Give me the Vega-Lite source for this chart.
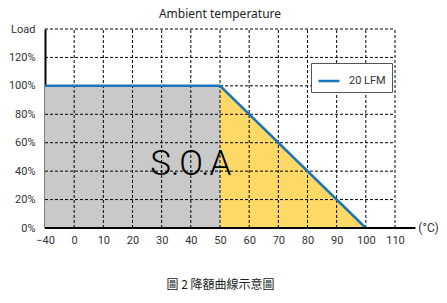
{
  "$schema": "https://vega.github.io/schema/vega-lite/v6.json",
  "width": 350,
  "height": 199,
  "autosize": "none",
  "padding": {"left": 45, "top": 29, "right": 52, "bottom": 75},
  "background": "white",
  "title": {"text": "Ambient temperature", "font": "Noto Sans", "fontSize": 12, "fontWeight": "normal", "color": "#222", "offset": 2, "frame": "group"},
  "config": {"view": {"stroke": null}, "font": "Roboto"},
  "encoding": {
    "x": {"field": "t", "type": "quantitative",
      "scale": {"domain": [-40, 0, 110], "range": [0, 29.1667, 350], "nice": false, "zero": false},
      "axis": {"values": [-40, 0, 10, 20, 30, 40, 50, 60, 70, 80, 90, 100, 110], "grid": false, "domain": false, "ticks": false, "labelPadding": 6, "labelFont": "Roboto", "labelFontSize": 11, "labelColor": "#333", "labelFlush": false, "labelOverlap": false,
        "title": "圖 2 降額曲線示意圖", "titleFont": "Noto Sans CJK TC", "titleFontSize": 12, "titleFontWeight": "normal", "titleColor": "#222", "titlePadding": 34}},
    "y": {"field": "load", "type": "quantitative",
      "scale": {"domain": [0, 140], "nice": false, "zero": true},
      "axis": {"values": [0, 20, 40, 60, 80, 100, 120, 140], "grid": false, "domain": true, "domainColor": "black", "domainWidth": 2, "ticks": false, "labelPadding": 10, "labelFont": "Roboto", "labelFontSize": 11, "labelColor": "#333",
        "labelExpr": "datum.value == 140 ? 'Load' : datum.value + '%'", "title": null}}
  },
  "layer": [
    {"data": {"values": [{"t": -40, "load": 100}, {"t": 50, "load": 100}]},
     "mark": {"type": "area", "color": "#c9c9c9"}},
    {"data": {"values": [{"t": 50, "load": 100}, {"t": 100, "load": 0}]},
     "mark": {"type": "area", "color": "#fed966"}},
    {"data": {"values": [{"t": 0, "load": 0, "top": 140}, {"t": 10, "load": 0, "top": 140}, {"t": 20, "load": 0, "top": 140}, {"t": 30, "load": 0, "top": 140}, {"t": 40, "load": 0, "top": 140}, {"t": 50, "load": 0, "top": 140}, {"t": 60, "load": 0, "top": 140}, {"t": 70, "load": 0, "top": 140}, {"t": 80, "load": 0, "top": 140}, {"t": 90, "load": 0, "top": 140}, {"t": 100, "load": 0, "top": 140}, {"t": 110, "load": 0, "top": 140}]},
     "mark": {"type": "rule", "color": "black", "strokeWidth": 1, "strokeDash": [3, 2]},
     "encoding": {"y2": {"field": "top"}}},
    {"data": {"values": [{"t": -40, "t2": 110, "load": 20}, {"t": -40, "t2": 110, "load": 40}, {"t": -40, "t2": 110, "load": 60}, {"t": -40, "t2": 110, "load": 80}, {"t": -40, "t2": 110, "load": 100}, {"t": -40, "t2": 110, "load": 120}, {"t": -40, "t2": 110, "load": 140}]},
     "mark": {"type": "rule", "color": "black", "strokeWidth": 1, "strokeDash": [3, 2]},
     "encoding": {"x2": {"field": "t2"}}},
    {"data": {"values": [{"t": -40, "load": 100, "series": "20 LFM"}, {"t": 50, "load": 100, "series": "20 LFM"}, {"t": 100, "load": 0, "series": "20 LFM"}]},
     "mark": {"type": "line", "strokeWidth": 2.5},
     "encoding": {"color": {"field": "series", "type": "nominal",
       "scale": {"range": ["#1b75bc"]},
       "legend": {"title": null, "orient": "none", "legendX": 266, "legendY": 34, "strokeColor": "#555", "fillColor": "white", "padding": 6, "symbolType": "stroke", "symbolSize": 441, "symbolStrokeWidth": 2.5, "labelFont": "Roboto", "labelFontSize": 11, "labelColor": "#333", "labelOffset": 8}}}},
    {"data": {"values": [{"t": -40, "load": 0}, {"t": 117, "load": 0}]},
     "mark": {"type": "line", "color": "black", "strokeWidth": 2}},
    {"data": {"values": [{"t": 40, "load": 45, "label": "S.O.A"}]},
     "mark": {"type": "text", "font": "Roboto", "fontSize": 35, "fontWeight": 300, "color": "black", "align": "center", "baseline": "middle"},
     "encoding": {"text": {"field": "label"}}},
    {"data": {"values": [{"t": 118, "load": 0, "label": "(°C)"}]},
     "mark": {"type": "text", "font": "Roboto", "fontSize": 12, "color": "#333", "align": "left", "baseline": "middle"},
     "encoding": {"text": {"field": "label"}}}
  ]
}
